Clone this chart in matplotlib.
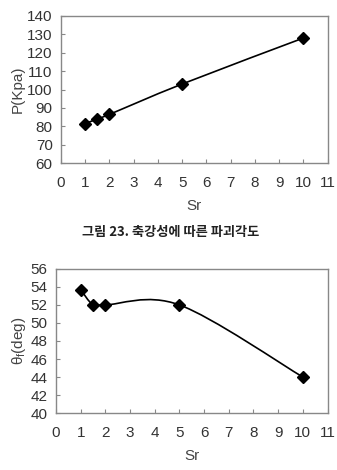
import numpy as np
import matplotlib.pyplot as plt
from matplotlib.path import Path
from matplotlib.patches import PathPatch

plt.rcParams['font.family'] = ['Liberation Sans', 'DejaVu Sans']
plt.rcParams['mathtext.fontset'] = 'custom'
plt.rcParams['mathtext.rm'] = 'Liberation Sans'
plt.rcParams['mathtext.it'] = 'Liberation Sans'

# data
sr = [1, 1.5, 2, 5, 10]
pressure = [81.5, 84, 86.5, 103, 128]
theta = [53.7, 52, 52, 52, 44]
caption = '그림 23. 축강성에 따른 파괴각도'


def smooth_path(xs, ys):
    # Excel-style smoothed line (Catmull-Rom -> cubic Bezier)
    pts = np.column_stack([xs, ys]).astype(float)
    verts = [pts[0]]
    codes = [Path.MOVETO]
    n = len(pts)
    for i in range(n - 1):
        p0 = pts[i - 1] if i > 0 else pts[i]
        p1, p2 = pts[i], pts[i + 1]
        p3 = pts[i + 2] if i + 2 < n else pts[i + 1]
        c1 = p1 + (p2 - p0) / 6
        c2 = p2 - (p3 - p1) / 6
        verts += [c1, c2, p2]
        codes += [Path.CURVE4] * 3
    return Path(verts, codes)


def style_axes(ax, ylim, yticks):
    ax.set_xlim(0, 11)
    ax.set_ylim(*ylim)
    ax.set_xticks(range(0, 12))
    ax.set_yticks(yticks)
    for s in ax.spines.values():
        s.set_color('#888888')
        s.set_linewidth(1.0)
    ax.tick_params(direction='in', length=3, color='#888888',
                   labelsize=11, pad=6, labelcolor='#333333')
    ax.tick_params(axis='x', pad=9)


fig = plt.figure(figsize=(3.37, 4.70), dpi=100)

ax1 = fig.add_axes([0.181, 0.653, 0.791, 0.313])
ax1.add_patch(PathPatch(smooth_path(sr, pressure), fill=False,
                        lw=1.2, color='black'))
ax1.plot(sr, pressure, ls='none', marker='D', ms=6, color='black')
style_axes(ax1, (60, 140), range(60, 141, 10))
ax1.set_ylabel('P(Kpa)', fontsize=11, color='#444444', labelpad=2)
ax1.set_xlabel('Sr', fontsize=11, color='#444444', labelpad=7)

fig.text(0.505, 0.507, caption, ha='center', va='center', fontsize=9.5,
         fontweight='bold', family=['Noto Sans CJK KR', 'DejaVu Sans'],
         color='#222222')

ax2 = fig.add_axes([0.166, 0.121, 0.806, 0.307])
ax2.add_patch(PathPatch(smooth_path(sr, theta), fill=False,
                        lw=1.2, color='black'))
ax2.plot(sr, theta, ls='none', marker='D', ms=6, color='black')
style_axes(ax2, (40, 56), range(40, 57, 2))
ax2.set_ylabel(r'$\theta_f$(deg)', fontsize=11, color='#444444', labelpad=2)
ax2.set_xlabel('Sr', fontsize=11, color='#444444', labelpad=7)

fig.savefig('out.png', dpi=100)
